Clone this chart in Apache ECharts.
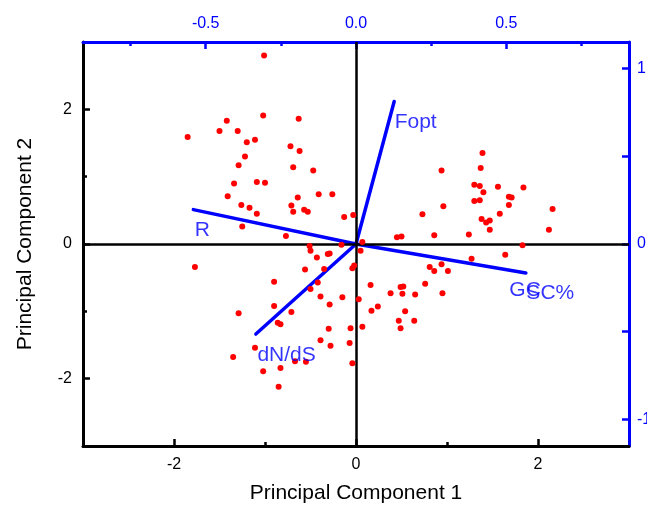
<!DOCTYPE html>
<html><head><meta charset="utf-8">
<script src="https://cdn.jsdelivr.net/npm/echarts@6/dist/echarts.min.js"></script>
<style>html,body{margin:0;padding:0;background:#fff}#c{width:647px;height:506px}</style>
</head><body><div id="c"></div>
<script>
// PCA scores (Principal Component 1 / 2)
const pc1 = [-1.01,-1.02,-1.42,-1.50,-1.30,-1.85,-1.11,-1.20,-1.22,-1.29,-1.34,-1.09,-1.00,-1.41,-1.26,-1.17,-1.09,-1.25,-0.63,-0.62,-0.72,-0.69,-0.47,-0.64,-0.71,-0.69,-0.41,-0.26,-0.57,-0.53,-0.13,-0.03,-0.77,
  0.73,1.39,0.94,1.37,1.30,1.36,1.56,1.84,1.40,1.68,1.71,1.30,1.36,0.96,1.68,2.16,1.58,1.38,1.43,1.47,1.47,2.12,0.86,1.24,0.45,0.50,0.07,
  1.83,1.64,1.27,0.94,0.86,1.01,0.81,0.95,0.05,0.16,0.38,0.49,0.52,0.51,0.65,0.76,0.03,0.17,0.24,0.54,0.47,0.64,0.49,0.07,
  -0.51,-0.50,-0.16,-0.43,-0.31,-0.29,-0.56,-0.35,-0.04,-0.02,-0.42,-0.50,-0.39,-0.15,-0.29,-0.06,-0.30,-0.39,-0.28,-0.07,-0.04,-0.55,-0.67,-1.77,-0.90,-0.90,-1.29,-0.71,-0.86,-0.83,-1.11,-1.35,-1.02,-0.83,-0.85];
const pc2 = [2.80,1.91,1.83,1.68,1.68,1.59,1.55,1.51,1.30,1.17,0.90,0.92,0.91,0.71,0.58,0.54,0.45,0.26,1.86,1.38,1.45,1.14,1.09,0.69,0.57,0.48,0.74,0.74,0.51,0.48,0.40,0.43,0.12,
  0.44,1.35,1.09,1.13,0.88,0.86,0.85,0.84,0.77,0.70,0.69,0.64,0.65,0.56,0.58,0.52,0.45,0.37,0.32,0.35,0.21,0.21,0.13,0.14,0.10,0.11,0.03,
  -0.02,-0.16,-0.22,-0.30,-0.40,-0.40,-0.34,-0.73,-0.10,-0.61,-0.73,-0.64,-0.63,-0.74,-0.75,-0.59,-0.82,-0.99,-0.93,-1.00,-1.14,-1.14,-1.25,-1.23,
  -0.03,-0.10,-0.01,-0.20,-0.15,-0.14,-0.38,-0.37,-0.36,-0.32,-0.57,-0.67,-0.78,-0.79,-0.90,-1.25,-1.26,-1.43,-1.51,-1.47,-1.77,-1.75,-1.74,-0.34,-0.56,-0.92,-1.03,-1.01,-1.17,-1.19,-1.54,-1.68,-1.89,-1.84,-2.12];

// Loadings (top / right axes)
const varNames = ['Fopt', 'R', 'GC', 'dN/dS'];
const loadX = [0.127, -0.541, 0.565, -0.333];
const loadY = [0.812, 0.196, -0.165, -0.513];
const extraName = 'SC%';   // second label at the GC arrow tip

// Tick values
const scoreTicks = [-2, 0, 2];
const scoreMinor = [-1, 1];
const loadXTicks = [-0.5, 0, 0.5];
const loadXMinor = [-0.75, -0.25, 0.25, 0.75];
const loadYTicks = [-1, -0.5, 0, 0.5, 1];
const loadYLabels = [-1, 0, 1];

const BLUE = '#0000ff';
const FONT = 'Liberation Sans, Arial, sans-serif';

const chart = echarts.init(document.getElementById('c'), null, {renderer: 'canvas'});

const labelOffsets = {'Fopt': [1, 21], 'R': [2, 21], 'GC': [-16, 18], 'dN/dS': [2, 22]};

const vecSeries = varNames.map((n, i) => ({
  type: 'line', xAxisIndex: 1, yAxisIndex: 1,
  data: [[0, 0], [loadX[i], loadY[i]]],
  showSymbol: false, symbol: 'none', silent: true, z: 3,
  lineStyle: {color: BLUE, width: 3.5, cap: 'round'}
}));

const labelData = varNames.map((n, i) => ({
  value: [loadX[i], loadY[i]], name: n,
  label: {offset: labelOffsets[n]}
}));
labelData.push({value: [loadX[2], loadY[2]], name: extraName, label: {offset: [1, 21]}});

const hiddenLine = {show: false, onZero: false};

const option = {
  animation: false,
  backgroundColor: '#fff',
  textStyle: {fontFamily: FONT},
  grid: {left: 83, right: 18, top: 42, bottom: 60, containLabel: false, outerBoundsMode: 'none'},
  xAxis: [
    {type: 'value', position: 'bottom', min: -3, max: 3,
     name: 'Principal Component 1', nameLocation: 'middle', nameGap: 37,
     nameTextStyle: {fontSize: 21, color: '#000', fontFamily: FONT},
     axisLine: {show: true, onZero: false, lineStyle: {color: '#000', width: 3}},
     axisTick: {show: true, inside: true, length: 7, customValues: scoreTicks, lineStyle: {color: '#000', width: 2.5}},
     axisLabel: {show: true, customValues: scoreTicks, margin: 11, fontSize: 16, color: '#000', fontFamily: FONT},
     splitLine: {show: false}},
    {type: 'value', position: 'top', min: -0.908, max: 0.908,
     axisLine: {show: true, onZero: false, lineStyle: {color: BLUE, width: 3}},
     axisTick: {show: true, inside: true, length: 7, customValues: loadXTicks, lineStyle: {color: BLUE, width: 2.5}},
     axisLabel: {show: true, customValues: loadXTicks, margin: 10, fontSize: 16, color: BLUE, fontFamily: FONT,
                 formatter: v => v.toFixed(1)},
     splitLine: {show: false}},
    {type: 'value', position: 'bottom', min: -3, max: 3,
     axisLine: hiddenLine, axisLabel: {show: false}, splitLine: {show: false},
     axisTick: {show: true, inside: true, length: 4, customValues: scoreMinor, lineStyle: {color: '#000', width: 2.5}}},
    {type: 'value', position: 'top', min: -0.908, max: 0.908,
     axisLine: hiddenLine, axisLabel: {show: false}, splitLine: {show: false},
     axisTick: {show: true, inside: true, length: 4, customValues: loadXMinor, lineStyle: {color: BLUE, width: 2.5}}}
  ],
  yAxis: [
    {type: 'value', position: 'left', min: -3, max: 3,
     name: 'Principal Component 2', nameLocation: 'middle', nameGap: 47, nameRotate: 90,
     nameTextStyle: {fontSize: 21, color: '#000', fontFamily: FONT},
     axisLine: {show: true, onZero: false, lineStyle: {color: '#000', width: 3}},
     axisTick: {show: true, inside: true, length: 7, customValues: scoreTicks, lineStyle: {color: '#000', width: 2.5}},
     axisLabel: {show: true, customValues: scoreTicks, margin: 11, fontSize: 16, color: '#000', fontFamily: FONT},
     splitLine: {show: false}},
    {type: 'value', position: 'right', min: -1.151, max: 1.151,
     axisLine: {show: true, onZero: false, lineStyle: {color: BLUE, width: 3}},
     axisTick: {show: true, inside: true, length: 7, customValues: loadYTicks, lineStyle: {color: BLUE, width: 2.5}},
     axisLabel: {show: true, customValues: loadYLabels, margin: 8, fontSize: 16, color: BLUE, fontFamily: FONT},
     splitLine: {show: false}},
    {type: 'value', position: 'left', min: -3, max: 3,
     axisLine: hiddenLine, axisLabel: {show: false}, splitLine: {show: false},
     axisTick: {show: true, inside: true, length: 4, customValues: scoreMinor, lineStyle: {color: '#000', width: 2.5}}}
  ],
  series: [
    {type: 'scatter', xAxisIndex: 0, yAxisIndex: 0, data: [], silent: true, z: 1,
     markLine: {silent: true, symbol: 'none', animation: false, label: {show: false},
       lineStyle: {color: '#000', width: 2.5, type: 'solid'},
       data: [{xAxis: 0}, {yAxis: 0}]}},
    ...vecSeries,
    {type: 'scatter', xAxisIndex: 0, yAxisIndex: 0, z: 5, silent: true,
     symbolSize: 6, itemStyle: {color: '#ff0000', opacity: 1},
     data: pc1.map((x, i) => [x, pc2[i]])},
    {type: 'scatter', xAxisIndex: 1, yAxisIndex: 1, z: 6, silent: true,
     symbolSize: 1, itemStyle: {color: 'rgba(0,0,0,0)'},
     label: {show: true, position: [0, 0], align: 'left', verticalAlign: 'middle',
             formatter: p => p.name, color: BLUE, fontSize: 21, fontFamily: FONT},
     data: labelData}
  ]
};
chart.setOption(option);
</script>
</body></html>
